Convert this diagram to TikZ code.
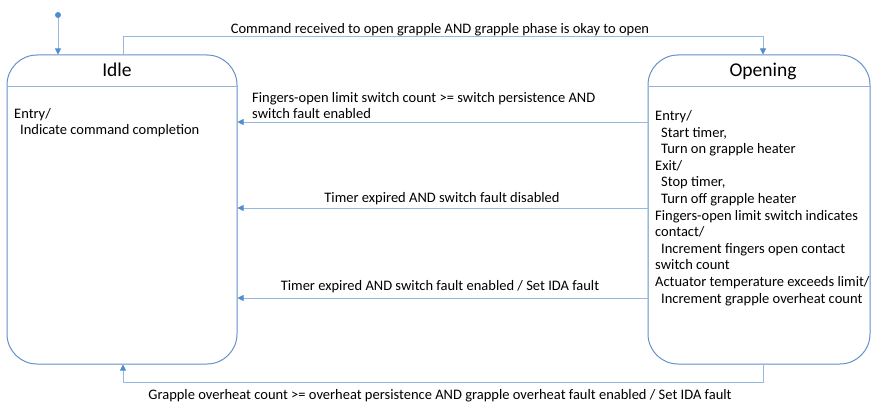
\documentclass[tikz,border=0pt]{standalone}
\usepackage{fontspec}
\setmainfont{Carlito}
\usetikzlibrary{arrows.meta}
\definecolor{boxblue}{RGB}{100,145,200}
\definecolor{linkblue}{RGB}{150,185,225}
\definecolor{tipblue}{RGB}{80,140,210}
\begin{document}
\begin{tikzpicture}[x=1pt,y=-1pt,
  state/.style={draw=boxblue, line width=1pt, rounded corners=30pt, inner sep=0pt},
  divider/.style={draw=boxblue!70, line width=0.8pt},
  conn/.style={draw=linkblue, line width=0.9pt, -{Triangle[width=6pt,length=6pt,color=tipblue]}},
  title/.style={font=\fontsize{19.5}{23}\selectfont, inner sep=0pt, anchor=base},
  body/.style={font=\fontsize{14.5}{16.6}\selectfont, align=left, anchor=base west, inner sep=0pt},
  lbl/.style={font=\fontsize{14.5}{16}\selectfont, inner sep=0pt, anchor=base}]
\useasboundingbox (0,0) rectangle (871,404);

% states
\node[state, minimum width=230pt, minimum height=309pt] (idle) at (122,209.5) {};
\node[state, minimum width=222pt, minimum height=309pt] (opening) at (759,209.5) {};
\coordinate (div) at (0,86);
\draw[divider] (idle.west |- div) -- (idle.east |- div);
\draw[divider] (opening.west |- div) -- (opening.east |- div);

\node[title] (idletitle) at (117,77) {Idle};
\node[title] (opentitle) at (763,77) {Opening};

% activity lists (anchored at the baseline of their last line)
\node[body] (idlebody) at (14,135) {Entry/\\\hspace*{6pt}Indicate command completion};
\node[body] (openbody) at (655,303) {Entry/\\
\hspace*{6pt}Start timer,\\
\hspace*{6pt}Turn on grapple heater\\
Exit/\\
\hspace*{6pt}Stop timer,\\
\hspace*{6pt}Turn off grapple heater\\
Fingers-open limit switch indicates\\
contact/\\
\hspace*{6pt}Increment fingers open contact\\
switch count\\
Actuator temperature exceeds limit/\\
\hspace*{6pt}Increment grapple overheat count};

% initial pseudo-state
\node[circle, fill=tipblue, inner sep=0pt, minimum size=6pt] (init) at (58,15) {};
\draw[conn] (init) -- (init |- idle.north);

% transitions
\draw[conn] ([xshift=1pt]idle.north) -- ++(0,-18) -| ([xshift=4pt]opening.north);
\node[lbl] (l0) at (440,34) {Command received to open grapple AND grapple phase is okay to open};

\coordinate (a1) at (0,122);
\coordinate (a2) at (0,208);
\coordinate (a3) at (0,298);
\draw[conn] (opening.west |- a1) -- (idle.east |- a1);
\draw[conn] (opening.west |- a2) -- (idle.east |- a2);
\draw[conn] (opening.west |- a3) -- (idle.east |- a3);
\node[lbl, align=left, anchor=base west] (l1) at (252,118) {Fingers-open limit switch count >= switch persistence AND\\switch fault enabled};
\node[lbl] (l2) at (442,202) {Timer expired AND switch fault disabled};
\node[lbl] (l3) at (440,290) {Timer expired AND switch fault enabled / Set IDA fault};

\draw[conn] ([xshift=4pt]opening.south) -- ++(0,18) -| ([xshift=1pt]idle.south);
\node[lbl] (l4) at (440,399) {Grapple overheat count >= overheat persistence AND grapple overheat fault enabled / Set IDA fault};
\end{tikzpicture}
\end{document}
